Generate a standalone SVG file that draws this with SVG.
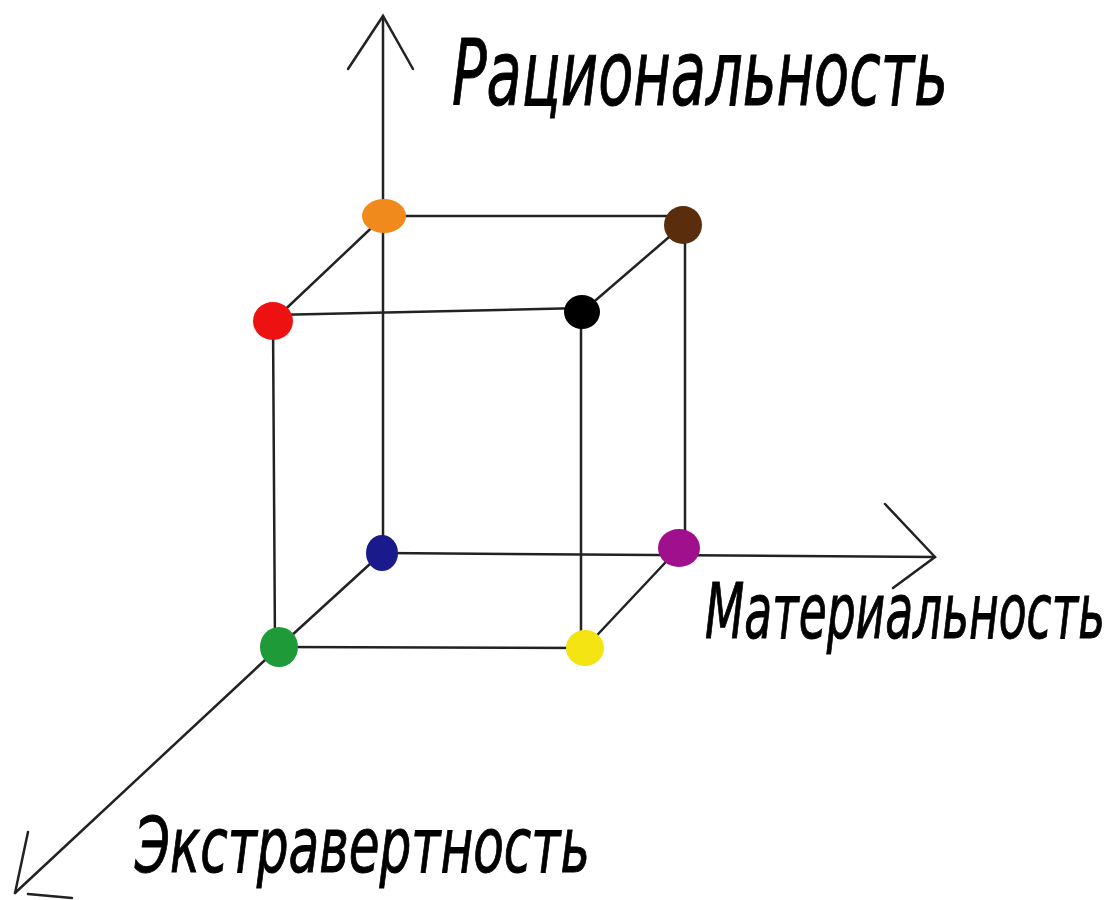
<svg xmlns="http://www.w3.org/2000/svg" width="1116" height="900" viewBox="0 0 1116 900">
<style>
.ln{stroke:#222;stroke-width:2.5;fill:none;stroke-linecap:round}
.lbl{font-family:"DejaVu Sans","Liberation Sans",sans-serif;font-style:oblique;font-stretch:condensed;fill:#000;stroke:#000;stroke-width:1}
</style>
<rect width="1116" height="900" fill="#fff"/>
<g id="connectors">
<path class="ln" d="M383,16 L383,553"/>
<path class="ln" d="M348,69 L383,16 L413,69"/>
<path class="ln" d="M382,553 L935,557"/>
<path class="ln" d="M885,504 L935,557 L893,588"/>
<path class="ln" d="M279,647 L15,893"/>
<path class="ln" d="M28,832 L15,893"/>
<path class="ln" d="M28,894 L72,898"/>
<path class="ln" d="M384,216 L683,216"/>
<path class="ln" d="M384,216 L273,321"/>
<path class="ln" d="M273,315 L582,308"/>
<path class="ln" d="M582,312 L683,225"/>
<path class="ln" d="M273,321 L275,647"/>
<path class="ln" d="M581,312 L581,648"/>
<path class="ln" d="M685,225 L685,548"/>
<path class="ln" d="M382,553 L279,647"/>
<path class="ln" d="M679,548 L585,648"/>
<path class="ln" d="M279,647 L585,648"/>
</g>
<g id="n-orange"><ellipse cx="384" cy="216" rx="22" ry="17" fill="#f08a1c"/></g>
<g id="n-brown"><ellipse cx="683" cy="225" rx="19" ry="19" fill="#5a2d0c"/></g>
<g id="n-red"><ellipse cx="273" cy="321" rx="20" ry="19" fill="#ee1111"/></g>
<g id="n-black"><ellipse cx="582" cy="312" rx="18" ry="17" fill="#000"/></g>
<g id="n-blue"><ellipse cx="382" cy="553" rx="16" ry="18" fill="#1a1a8c"/></g>
<g id="n-magenta"><ellipse cx="679" cy="548" rx="21" ry="19" fill="#a0108c"/></g>
<g id="n-green"><ellipse cx="279" cy="647" rx="19" ry="20" fill="#1e9a38"/></g>
<g id="n-yellow"><ellipse cx="585" cy="648" rx="19" ry="18" fill="#f4e413"/></g>
<g id="labels">
<text class="lbl" x="452" y="105" font-size="90" textLength="496" lengthAdjust="spacingAndGlyphs">Рациональность</text>
<text class="lbl" x="705" y="638" font-size="77" textLength="400" lengthAdjust="spacingAndGlyphs">Материальность</text>
<text class="lbl" x="135" y="872" font-size="77" textLength="455" lengthAdjust="spacingAndGlyphs">Экстравертность</text>
</g>
</svg>
